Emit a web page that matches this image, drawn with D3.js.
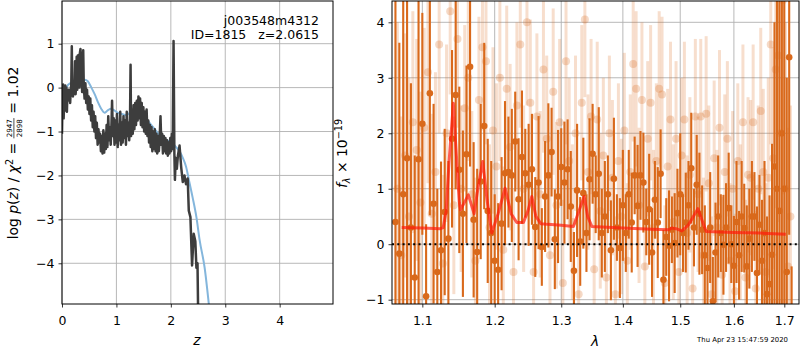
<!DOCTYPE html>
<html><head><meta charset="utf-8">
<script src="https://cdn.jsdelivr.net/npm/d3@7"></script>
<style>body{margin:0;background:#fff} svg{display:block} text{font-family:"DejaVu Sans",sans-serif}</style>
</head><body><svg id="c" width="800" height="350"></svg>
<script>
// ---------- left panel: log p(z) ----------
const pzZ = [0.000,0.010,0.020,0.030,0.040,0.050,0.060,0.070,0.080,0.090,0.100,0.110,0.120,0.130,0.140,0.150,0.160,0.170,0.180,0.190,
0.200,0.210,0.220,0.230,0.240,0.250,0.260,0.270,0.280,0.290,0.300,0.310,0.320,0.330,0.340,0.350,0.360,0.370,0.380,0.390,
0.400,0.415,0.430,0.445,0.460,0.475,0.490,0.505,0.520,0.535,0.550,0.565,0.580,0.595,0.610,0.625,0.640,0.655,0.670,0.685,
0.700,0.715,0.730,0.745,0.760,0.775,0.790,0.805,0.820,0.835,0.850,0.865,0.880,0.895,0.910,0.920,0.935,0.950,0.965,0.980,
0.995,1.010,1.025,1.040,1.055,1.070,1.085,1.100,1.115,1.130,1.145,1.160,1.175,1.190,1.205,1.220,1.235,1.250,1.260,1.270,
1.285,1.300,1.315,1.330,1.345,1.360,1.375,1.390,1.405,1.420,1.435,1.450,1.465,1.480,1.495,1.510,1.525,1.540,1.555,1.570,
1.585,1.600,1.615,1.630,1.645,1.660,1.675,1.690,1.705,1.720,1.735,1.750,1.765,1.780,1.795,1.810,1.825,1.840,1.855,1.870,
1.885,1.900,1.915,1.930,1.945,1.960,1.975,1.990,2.005,2.020,2.035,2.050,2.065,2.075,2.090,2.110,2.130,2.160,2.190,2.220,
2.250,2.280,2.310,2.330,2.360,2.390,2.420,2.450,2.470,2.490,2.500];
const pzLog = [-1.05,-0.20,0.07,-0.70,-0.30,-0.52,0.05,-0.25,0.00,-0.55,-0.10,-0.30,-0.05,-0.20,-0.07,-0.35,-0.05,0.05,0.94,-0.05,
-0.20,-0.14,0.10,-0.10,0.60,-0.15,0.05,0.70,-0.05,0.73,0.10,0.75,0.00,0.80,0.88,0.05,0.80,-0.10,0.20,0.85,
0.05,-0.25,0.10,-0.35,-0.05,-0.50,-0.20,-0.60,-0.25,-0.75,-0.40,-0.90,-0.55,-1.00,-0.65,-1.15,-0.80,-1.30,-0.95,-1.25,
-1.05,-1.45,-1.10,-1.50,-0.97,-1.48,-1.05,-1.40,-0.85,-1.35,-0.65,-1.20,-0.90,-1.30,-0.80,-0.30,-1.10,-0.70,-1.30,-0.75,
-1.25,-0.60,-1.35,-0.85,-1.20,-0.55,-1.30,-0.80,-1.25,-0.65,-1.15,-0.75,-1.30,-0.55,-1.10,-0.80,-1.20,-0.70,0.52,-1.10,
-0.50,-1.05,-0.40,-0.95,-0.35,-0.85,-0.30,-0.75,-0.20,-0.70,-0.25,-0.85,-0.35,-0.90,-0.45,-1.00,-0.55,-1.05,-0.50,-1.10,
-0.75,-1.25,-0.85,-1.35,-0.90,-1.45,-1.00,-1.40,-0.95,-1.45,-1.05,-1.50,-1.10,-1.45,-1.15,-0.65,-1.30,-1.05,-1.50,-1.10,
-1.45,-1.15,-1.50,-1.20,-1.55,-1.25,-1.50,-1.15,-1.45,-1.05,-1.40,1.06,-1.50,-2.10,-1.60,-1.85,-1.55,-1.32,-1.81,-2.15,
-2.00,-2.20,-2.07,-2.80,-2.95,-4.05,-3.33,-3.50,-4.10,-4.00,-4.95];
const pzSmoothZ = [0,0.03,0.08,0.15,0.25,0.35,0.42,0.47,0.54,0.60,0.66,0.72,0.78,0.84,0.90,0.96,1.02,1.10,1.18,1.25,1.32,1.40,1.47,
1.55,1.62,1.70,1.80,1.88,1.95,2.02,2.10,2.16,2.22,2.28,2.34,2.40,2.47,2.53,2.62,2.70];
const pzSmoothLog = [-0.55,-0.20,0.00,0.10,0.12,0.14,0.18,0.15,0.00,-0.15,-0.33,-0.48,-0.57,-0.52,-0.48,-0.52,-0.57,-0.60,-0.63,-0.57,-0.52,-0.53,-0.58,
-0.71,-0.82,-0.94,-1.09,-1.16,-1.21,-1.27,-1.36,-1.45,-1.60,-1.80,-2.15,-2.50,-2.95,-3.48,-4.09,-4.95];

// ---------- right panel: spectrum ----------
const darkLam = [1.065,1.070,1.075,1.080,1.085,1.090,1.095,1.100,1.105,1.110,
1.115,1.120,1.125,1.130,1.135,1.140,1.145,1.150,1.155,1.160,
1.165,1.170,1.175,1.180,1.185,1.190,1.195,1.200,1.205,1.210,
1.215,1.220,1.225,1.230,1.235,1.240,1.245,1.250,1.255,1.260,
1.265,1.270,1.275,1.280,1.285,1.290,1.295,1.300,1.305,1.310,
1.315,1.320,1.325,1.330,1.335,1.340,1.345,1.350,1.355,1.360,
1.365,1.370,1.375,1.380,1.385,1.390,1.395,1.400,1.405,1.410,
1.415,1.420,1.425,1.430,1.435,1.440,1.445,1.450,1.455,1.460,
1.465,1.470,1.475,1.480,1.485,1.490,1.495,1.500,1.505,1.510,
1.515,1.520,1.525,1.530,1.535,1.540,1.545,1.550,1.555,1.560,
1.565,1.570,1.575,1.580,1.585,1.590,1.595,1.600,1.605,1.610,
1.615,1.620,1.625,1.630,1.635,1.640,1.645,1.650,1.655,1.660,
1.665,1.670,1.675,1.680,1.685,1.690,1.695,1.700,1.705,1.710,
1.715];
const darkFlux = [0.4,-0.17,0.9,1.55,0.3,-0.6,1.53,2.17,-0.94,2.72,
0.73,-0.5,-0.11,0.58,0.1,1.9,2.69,1.34,0.55,1.62,
3.2,0.44,-0.14,1.13,2.13,0.6,0.2,-0.3,-0.46,0.37,
1.28,1.3,1.24,1.85,0.81,1.57,1.28,1.07,1.35,0.31,
1.11,-0.05,0.86,1.24,1.66,0.09,0.86,1.39,1.11,1.35,
0.68,-0.48,0.97,0.05,0.92,0.2,1.17,1.63,0.9,1.27,
0.2,0.5,0.9,-0.11,1.18,0.3,-0.07,0.7,0.2,0.9,
0.39,1.24,0.69,1.24,1.11,0.4,0.63,-0.15,0.8,0.39,
1.27,-0.64,0.13,-0.03,0.26,0.02,0.56,0.9,0.2,0.39,
0.7,1.37,0.3,1.07,0.55,0.26,-0.2,-0.43,0.3,-1.03,
-0.15,0.5,0.2,-0.01,0.3,0.65,0.0,-0.39,0.4,-0.2,
0.5,0.29,-0.4,0.1,0.5,0.5,-0.52,0.35,-0.3,0.2,
-0.9,-0.72,-0.19,1.4,1.0,0.6,2.0,1.0,-0.5,3.37,
-1.6];
const darkErr = [4.5,3.8,4.0,4.2,2.6,2.2,4.5,2.0,1.3,2.2,
1.8,1.5,1.6,1.5,1.4,1.6,1.7,1.5,1.5,1.6,
1.8,1.4,1.5,1.4,1.5,1.3,1.3,1.2,1.2,1.2,
1.3,1.0,1.2,0.9,1.1,1.2,0.8,1.1,1.0,0.9,
1.2,0.7,1.0,1.3,0.8,0.9,1.2,0.7,1.1,0.9,
1.0,0.7,1.2,0.8,1.0,0.7,1.1,0.9,0.7,1.2,
0.8,1.0,0.7,0.9,1.1,0.6,0.9,1.0,0.7,0.8,
0.9,0.7,1.1,0.8,0.9,0.6,1.0,0.8,0.7,1.0,
0.8,0.9,0.7,1.0,0.6,0.9,0.8,1.1,0.7,0.9,
0.8,1.0,0.7,0.9,1.1,0.8,0.9,0.7,1.0,0.8,
0.9,1.1,0.7,0.9,0.8,1.0,0.7,0.9,1.1,0.8,
1.0,0.8,1.1,0.9,1.0,0.8,1.2,0.9,1.1,1.3,
1.4,1.6,2.0,2.6,4.5,4.0,5.0,4.5,3.5,3.2,
1.2];
const lightLam = [1.0675,1.0725,1.0775,1.0825,1.0875,1.0925,1.0975,1.1025,1.1075,1.1125,
1.1175,1.1225,1.1275,1.1325,1.1375,1.1425,1.1475,1.1525,1.1575,1.1625,
1.1675,1.1725,1.1775,1.1825,1.1875,1.1925,1.1975,1.2025,1.2075,1.2125,
1.2175,1.2225,1.2275,1.2325,1.2375,1.2425,1.2475,1.2525,1.2575,1.2625,
1.2675,1.2725,1.2775,1.2825,1.2875,1.2925,1.2975,1.3025,1.3075,1.3125,
1.3175,1.3225,1.3275,1.3325,1.3375,1.3425,1.3475,1.3525,1.3575,1.3625,
1.3675,1.3725,1.3775,1.3825,1.3875,1.3925,1.3975,1.4025,1.4075,1.4125,
1.4175,1.4225,1.4275,1.4325,1.4375,1.4425,1.4475,1.4525,1.4575,1.4625,
1.4675,1.4725,1.4775,1.4825,1.4875,1.4925,1.4975,1.5025,1.5075,1.5125,
1.5175,1.5225,1.5275,1.5325,1.5375,1.5425,1.5475,1.5525,1.5575,1.5625,
1.5675,1.5725,1.5775,1.5825,1.5875,1.5925,1.5975,1.6025,1.6075,1.6125,
1.6175,1.6225,1.6275,1.6325,1.6375,1.6425,1.6475,1.6525,1.6575,1.6625,
1.6675,1.6725,1.6775,1.6825,1.6875,1.6925,1.6975,1.7025,1.7075,1.7125];
const lightFlux = [1.0,-0.2,1.6,0.5,2.2,1.7,0.75,2.1,3.1,0.55,
1.3,3.6,-0.35,2.0,4.2,0.7,3.7,1.0,2.45,3.0,
0.9,-0.3,2.6,3.55,3.3,0.3,2.05,1.4,3.0,-0.1,
2.8,1.75,-0.5,2.5,3.6,1.0,4.0,2.55,-0.5,2.3,
0.9,3.15,1.9,-0.2,2.75,0.7,2.2,-0.7,3.3,1.5,
0.4,2.0,-0.9,2.55,4.05,1.3,2.3,-0.45,2.25,0.6,
1.6,-0.6,2.0,1.2,-0.9,1.5,0.5,2.05,-0.3,1.3,
3.25,2.8,0.7,2.6,-0.4,1.9,2.55,0.3,1.5,2.8,
2.7,-0.7,1.4,2.25,0.4,1.9,-0.5,1.6,2.25,0.2,
1.25,-0.8,2.3,0.9,2.3,-0.2,2.35,1.1,-0.9,1.55,
0.3,2.1,-0.55,1.3,1.9,-0.3,1.0,-0.85,1.5,0.4,
2.2,-0.6,1.25,1.2,2.2,-0.8,1.0,2.4,1.3,-0.5,
1.2,3.6,1.55,3.15,3.4,2.0,4.4,1.0,-0.4,0.5];
const lightErr = [3.0,2.5,2.2,2.5,2.0,2.0,2.0,1.8,2.0,1.8,
1.8,1.6,1.6,1.6,1.5,1.6,1.6,1.5,1.5,1.5,
1.5,1.5,1.5,1.5,1.5,1.5,1.5,1.5,1.5,1.5,
1.5,1.5,1.5,1.5,1.5,1.5,1.5,1.5,1.5,1.5,
1.5,1.5,1.5,1.5,1.5,1.5,1.5,1.5,1.5,1.5,
1.4,1.4,1.4,1.4,1.4,1.4,1.4,1.4,1.4,1.4,
1.4,1.4,1.4,1.4,1.4,1.4,1.4,1.4,1.4,1.4,
1.4,1.4,1.4,1.4,1.4,1.4,1.4,1.4,1.4,1.4,
1.4,1.4,1.4,1.4,1.4,1.4,1.4,1.4,1.4,1.4,
1.4,1.4,1.4,1.4,1.4,1.4,1.4,1.4,1.4,1.4,
1.4,1.4,1.4,1.4,1.4,1.4,1.4,1.4,1.4,1.4,
1.4,1.4,1.4,1.4,1.4,1.4,1.5,1.5,1.5,1.6,
1.8,1.8,2.0,2.5,3.0,3.5,3.5,3.0,2.5,2.0];
const modelLam = [1.073,1.100,1.124,1.128,1.132,1.136,1.1418,1.146,1.150,1.1517,1.157,1.1626,1.1706,1.176,1.1829,1.189,1.1958,1.205,1.2151,1.224,
1.2323,1.2422,1.249,1.2548,1.261,1.2685,1.300,1.3192,1.328,1.3363,1.342,1.3487,1.400,1.450,1.479,1.485,1.4925,1.5029,1.515,1.5322,
1.541,1.5477,1.600,1.650,1.703];
const modelFlux = [0.30,0.29,0.28,0.30,0.60,1.50,2.54,1.60,0.75,0.62,0.75,0.89,0.55,1.00,1.49,0.80,0.20,0.55,1.01,0.55,
0.39,0.39,0.60,0.86,0.50,0.37,0.34,0.32,0.60,0.86,0.50,0.32,0.29,0.27,0.26,0.29,0.28,0.24,0.35,0.64,
0.40,0.23,0.21,0.20,0.18];

const leftXTicks = [0,1,2,3,4];
const leftYTicks = [-4,-3,-2,-1,0,1];
const rightXTicks = [1.1,1.2,1.3,1.4,1.5,1.6,1.7];
const rightYTicks = [-1,0,1,2,3,4];

const objName = "j003548m4312";
const objInfo = "ID=1815   z=2.0615";
const stamp = "Thu Apr 23 15:47:59 2020";

// ---------- drawing ----------
const svg = d3.select('#c');
const defs = svg.append('defs');
const GRID = '#b0b0b0';
const ORANGE = '#d9691b';

const L = {x0:62, x1:333, y0:1, y1:304};
const R = {x0:392, x1:799, y0:1, y1:304};
const xL = d3.scaleLinear().domain([0,4.98]).range([L.x0,L.x1]);
const yL = d3.scaleLinear().domain([-4.927,1.972]).range([L.y1,L.y0]);
const xR = d3.scaleLog().domain([1.0606,1.7303]).range([R.x0,R.x1]);
const yR = d3.scaleLinear().domain([-1.078,4.384]).range([R.y1,R.y0]);

function clip(id, A){
  defs.append('clipPath').attr('id',id).append('rect')
    .attr('x',A.x0).attr('y',A.y0).attr('width',A.x1-A.x0).attr('height',A.y1-A.y0);
}
clip('clipL',L); clip('clipR',R);

function grid(g, A, xs, ys, xt, yt){
  g.append('g').selectAll('line').data(xt).join('line')
    .attr('x1',d=>xs(d)).attr('x2',d=>xs(d)).attr('y1',A.y0).attr('y2',A.y1)
    .attr('stroke',GRID).attr('stroke-width',0.9);
  g.append('g').selectAll('line').data(yt).join('line')
    .attr('y1',d=>ys(d)).attr('y2',d=>ys(d)).attr('x1',A.x0).attr('x2',A.x1)
    .attr('stroke',GRID).attr('stroke-width',0.9);
}
function axes(g, A, xs, ys, xt, yt, xf, yf){
  const ax = g.append('g').attr('transform',`translate(0,${A.y1})`)
    .call(d3.axisBottom(xs).tickValues(xt).tickSize(3.5).tickFormat(xf));
  const ay = g.append('g').attr('transform',`translate(${A.x0},0)`)
    .call(d3.axisLeft(ys).tickValues(yt).tickSize(3.5).tickFormat(yf));
  [ax,ay].forEach(a=>{
    a.select('.domain').remove();
    a.attr('font-family','"DejaVu Sans", sans-serif').attr('font-size',12.5);
    a.selectAll('line').attr('stroke','#000').attr('stroke-width',0.8);
    a.selectAll('text').attr('fill','#000');
  });
  ax.selectAll('text').attr('y',9.5).attr('dy','0.95em');
  ay.selectAll('text').attr('x',-7.5).attr('dy','0.34em');
  g.append('rect').attr('x',A.x0).attr('y',A.y0).attr('width',A.x1-A.x0).attr('height',A.y1-A.y0)
    .attr('fill','none').attr('stroke','#000').attr('stroke-width',1);
}

// left panel
const gL = svg.append('g');
grid(gL, L, xL, yL, leftXTicks, leftYTicks);
const pL = gL.append('g').attr('clip-path','url(#clipL)');
pL.append('path').datum(pzSmoothZ.map((z,i)=>[z,pzSmoothLog[i]]))
  .attr('d', d3.line().x(d=>xL(d[0])).y(d=>yL(d[1])).curve(d3.curveMonotoneX))
  .attr('fill','none').attr('stroke','#84b6dc').attr('stroke-width',2);
pL.append('path').datum(pzZ.map((z,i)=>[z,pzLog[i]]))
  .attr('d', d3.line().x(d=>xL(d[0])).y(d=>yL(d[1])))
  .attr('fill','none').attr('stroke','#3d3d3d').attr('stroke-width',2.5).attr('stroke-linejoin','round');
axes(gL, L, xL, yL, leftXTicks, leftYTicks, d3.format('d'), d3.format('d'));

gL.append('text').attr('x',319).attr('y',25).attr('text-anchor','end').attr('font-size',12.5).text(objName);
gL.append('text').attr('x',319).attr('y',39).attr('text-anchor','end').attr('font-size',12.5).style('white-space','pre').text(objInfo);
gL.append('text').attr('x',197).attr('y',345).attr('text-anchor','middle').attr('font-size',13.9).attr('font-style','italic').text('z');

// left y label with stacked fraction
(function(){
  const g = svg.append('g').attr('transform','translate(17.5,153) rotate(-90)');
  const fs = 13.9, sfs = 7.2;
  const t1 = g.append('text').attr('font-size',fs).attr('x',0).attr('y',0);
  t1.append('tspan').text('log ');
  t1.append('tspan').attr('font-style','italic').text('p');
  t1.append('tspan').text('(');
  t1.append('tspan').attr('font-style','italic').text('z');
  t1.append('tspan').text(') / ');
  t1.append('tspan').attr('font-style','italic').text('χ');
  t1.append('tspan').attr('font-size',fs*0.7).attr('dy',-5).text('2');
  t1.append('tspan').attr('dy',5).text('\u00a0=\u00a0');
  const w1 = t1.node().getComputedTextLength();
  const num = g.append('text').attr('font-size',sfs).attr('text-anchor','middle').text('2947');
  const den = g.append('text').attr('font-size',sfs).attr('text-anchor','middle').text('2898');
  const fw = Math.max(num.node().getComputedTextLength(), den.node().getComputedTextLength()) + 2;
  const t3 = g.append('text').attr('font-size',fs).text('\u00a0=\u00a01.02');
  const w3 = t3.node().getComputedTextLength();
  const total = w1 + fw + w3;
  const s = -total/2;
  t1.attr('x', s);
  num.attr('x', s + w1 + fw/2).attr('y',-5.2);
  den.attr('x', s + w1 + fw/2).attr('y',4.0);
  g.append('line').attr('x1', s + w1).attr('x2', s + w1 + fw).attr('y1',-3.6).attr('y2',-3.6)
    .attr('stroke','#000').attr('stroke-width',0.7);
  t3.attr('x', s + w1 + fw);
})();

// right panel
const gR = svg.append('g');
grid(gR, R, xR, yR, rightXTicks, rightYTicks);
const pR = gR.append('g').attr('clip-path','url(#clipR)');
const light = lightLam.map((l,i)=>({l, v:lightFlux[i], e:lightErr[i]}));
const dark = darkLam.map((l,i)=>({l, v:darkFlux[i], e:darkErr[i]}));
pR.append('g').selectAll('line').data(light).join('line')
  .attr('x1',d=>xR(d.l)).attr('x2',d=>xR(d.l)).attr('y1',d=>yR(d.v-d.e)).attr('y2',d=>yR(d.v+d.e))
  .attr('stroke',ORANGE).attr('stroke-opacity',0.22).attr('stroke-width',3);
pR.append('g').selectAll('circle').data(light).join('circle')
  .attr('cx',d=>xR(d.l)).attr('cy',d=>yR(d.v)).attr('r',4)
  .attr('fill',ORANGE).attr('fill-opacity',0.25);
pR.append('g').selectAll('line').data(dark).join('line')
  .attr('x1',d=>xR(d.l)).attr('x2',d=>xR(d.l)).attr('y1',d=>yR(d.v-d.e)).attr('y2',d=>yR(d.v+d.e))
  .attr('stroke',ORANGE).attr('stroke-width',2.1);
pR.append('g').selectAll('circle').data(dark).join('circle')
  .attr('cx',d=>xR(d.l)).attr('cy',d=>yR(d.v)).attr('r',3.3).attr('fill',ORANGE);
pR.append('path').datum(modelLam.map((l,i)=>[l,modelFlux[i]]))
  .attr('d', d3.line().x(d=>xR(d[0])).y(d=>yR(d[1])))
  .attr('fill','none').attr('stroke','#ff1a0a').attr('stroke-opacity',0.7).attr('stroke-width',3).attr('stroke-linejoin','round');
pR.append('line').attr('x1',R.x0).attr('x2',R.x1).attr('y1',yR(0)).attr('y2',yR(0))
  .attr('stroke','#000').attr('stroke-width',2).attr('stroke-dasharray','2,3.3');
axes(gR, R, xR, yR, rightXTicks, rightYTicks, d3.format('.1f'), d3.format('d'));

gR.append('text').attr('x',595).attr('y',346).attr('text-anchor','middle').attr('font-size',13.9).attr('font-style','italic').text('λ');
(function(){
  const t = svg.append('text').attr('transform','translate(347,153.5) rotate(-90)')
    .attr('text-anchor','middle').attr('font-size',13.9);
  t.append('tspan').attr('font-style','italic').text('f');
  t.append('tspan').attr('font-style','italic').attr('font-size',9.7).attr('dy',3).text('λ');
  t.append('tspan').attr('dy',-3).text('\u00a0×\u00a010');
  t.append('tspan').attr('font-size',9.7).attr('dy',-5.5).text('−19');
})();
svg.append('text').attr('x',788).attr('y',342).attr('text-anchor','end').attr('font-size',6.9).text(stamp);
</script></body></html>
